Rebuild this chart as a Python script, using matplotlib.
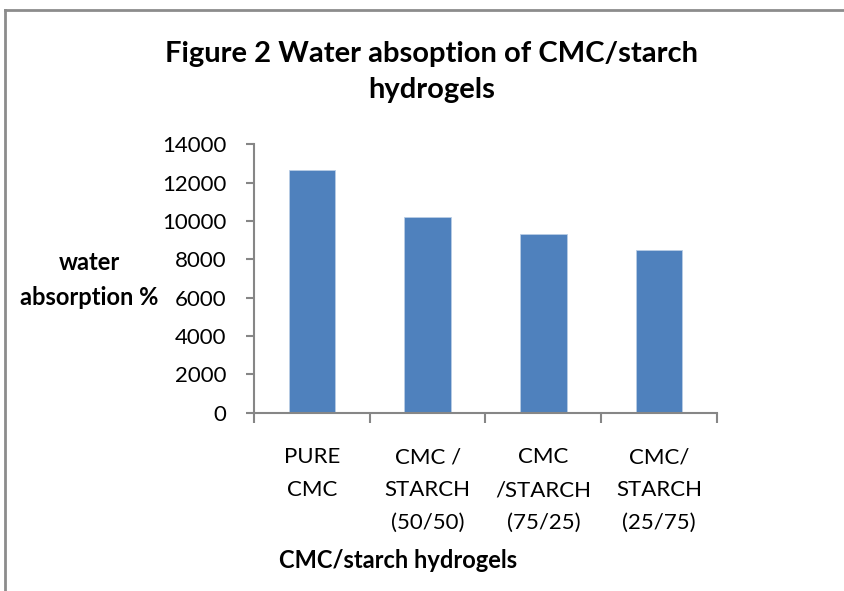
import matplotlib.pyplot as plt
import numpy as np
from matplotlib.lines import Line2D

categories = ['PURE\nCMC', 'CMC /\nSTARCH\n(50/50)', 'CMC\n/STARCH\n(75/25)', 'CMC/\nSTARCH\n(25/75)']
absorption = [12660, 10230, 9340, 8470]
y_ticks = [0, 2000, 4000, 6000, 8000, 10000, 12000, 14000]

plt.rcParams['font.family'] = ['Lato', 'DejaVu Sans']
axis_grey = '#868686'

fig = plt.figure(figsize=(8.45, 5.91), dpi=100)
ax = fig.add_axes([0.3006, 0.3017, 0.5479, 0.4541])

x = np.arange(len(categories))
ax.bar(x, absorption, width=0.4, color='#4F81BD', edgecolor='#B9CDE5', linewidth=0.6)

ax.set_xlim(-0.5, len(categories) - 0.5)
ax.set_ylim(0, 14000)
ax.set_yticks(y_ticks)
ax.set_yticklabels([str(v) for v in y_ticks], fontsize=16)
ax.set_xticks(x)
ax.set_xticklabels(categories, fontsize=16, linespacing=1.8, va='top')
ax.set_xticks(np.arange(-0.5, len(categories)), minor=True)
ax.tick_params(axis='x', which='major', length=0, pad=25)
ax.tick_params(axis='x', which='minor', length=7, width=1.5, color=axis_grey, direction='out')
ax.tick_params(axis='y', length=6, width=1.5, color=axis_grey, direction='out', pad=14)

for side in ['top', 'right']:
    ax.spines[side].set_visible(False)
for side in ['left', 'bottom']:
    ax.spines[side].set_color(axis_grey)
    ax.spines[side].set_linewidth(1.5)

fig.text(0.511, 0.878, 'Figure 2 Water absoption of CMC/starch\nhydrogels', ha='center', va='center',
         fontsize=21, fontweight='bold', linespacing=1.5)
fig.text(0.106, 0.526, 'water\nabsorption %', ha='center', va='center', fontsize=17,
         fontweight='bold', linespacing=1.6)
fig.text(0.471, 0.052, 'CMC/starch hydrogels', ha='center', va='center', fontsize=17,
         fontweight='bold')

# partial chart frame
fig.add_artist(Line2D([0.006, 1.0], [0.983, 0.983], color='#8C8C8C', linewidth=2, transform=fig.transFigure))
fig.add_artist(Line2D([0.006, 0.006], [0.0, 0.983], color='#8C8C8C', linewidth=2, transform=fig.transFigure))

fig.savefig('out.png', dpi=100)
